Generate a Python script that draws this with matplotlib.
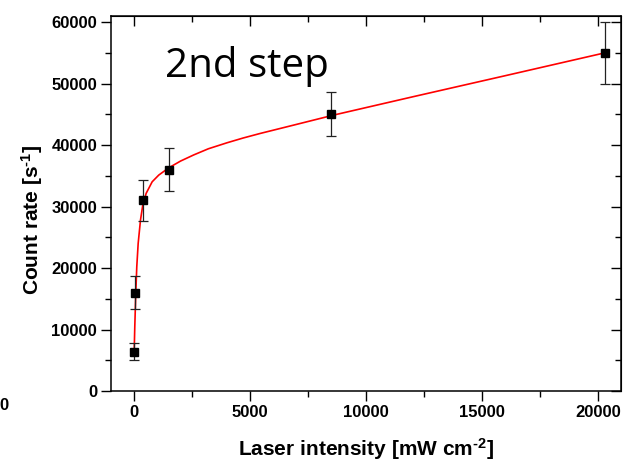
import matplotlib
matplotlib.use("Agg")
import matplotlib.pyplot as plt
from matplotlib.ticker import MultipleLocator

# measured points
intensity = [0, 50, 370, 1500, 8500, 20300]
count_rate = [6400, 16000, 31000, 36000, 45000, 55000]
count_err = [1400, 2700, 3400, 3500, 3600, 5000]

# fit curve
fit_x = [0, 26, 69, 112, 172, 272, 371, 517, 776, 1060, 1491, 2000, 2569,
         3200, 4009, 4700, 5444, 6880, 8603, 12000, 16000, 20300]
fit_y = [6400, 10450, 15880, 20210, 24010, 27800, 30240, 32150, 34030, 35120,
         36300, 37400, 38400, 39400, 40380, 41150, 41900, 43250, 44880, 47840,
         51280, 55000]

plt.rcParams['font.family'] = ['Liberation Sans', 'DejaVu Sans']
plt.rcParams['font.weight'] = 'bold'
plt.rcParams['axes.labelweight'] = 'bold'
plt.rcParams['mathtext.fontset'] = 'custom'
plt.rcParams['mathtext.rm'] = 'Liberation Sans:bold'
plt.rcParams['mathtext.default'] = 'rm'

fig = plt.figure(figsize=(6.25, 4.63), dpi=100)
ax = fig.add_axes([0.1776, 0.1555, 0.816, 0.81])

ax.plot(fit_x, fit_y, color='red', lw=1.2, zorder=2)
ax.errorbar(intensity, count_rate, yerr=count_err, fmt='s', color='black',
            ms=6, ecolor='#222222', elinewidth=0.9, capsize=3.3, capthick=0.9,
            zorder=3)

ax.set_xlim(-1000, 21000)
ax.set_ylim(0, 61000)

ax.xaxis.set_major_locator(MultipleLocator(5000))
ax.xaxis.set_minor_locator(MultipleLocator(2500))
ax.yaxis.set_major_locator(MultipleLocator(10000))
ax.yaxis.set_minor_locator(MultipleLocator(5000))
ax.tick_params(which='both', direction='out', width=1, labelsize=12, pad=3)
ax.tick_params(which='major', length=7)
ax.tick_params(which='minor', length=4)
for s in ax.spines.values():
    s.set_linewidth(1.1)

# mirrored ticks pointing inward on top and right
top = ax.secondary_xaxis('top')
top.xaxis.set_major_locator(MultipleLocator(5000))
top.xaxis.set_minor_locator(MultipleLocator(2500))
top.tick_params(which='both', direction='in', labeltop=False, width=1)
top.tick_params(which='major', length=7)
top.tick_params(which='minor', length=4)
right = ax.secondary_yaxis('right')
right.yaxis.set_major_locator(MultipleLocator(10000))
right.yaxis.set_minor_locator(MultipleLocator(5000))
right.tick_params(which='both', direction='in', labelright=False, width=1)
right.tick_params(which='major', length=7)
right.tick_params(which='minor', length=4)

ax.set_xlabel(r'Laser intensity [mW cm$^{\text{-2}}$]', fontsize=15, labelpad=12)
ax.set_ylabel(r'Count rate [s$^{\text{-1}}$]', fontsize=15)
ax.yaxis.set_label_coords(-0.129, 0.456)

ax.text(0.106, 0.837, '2nd step', transform=ax.transAxes, fontsize=29,
        family='Open Sans', fontweight='normal', va='baseline')

# cut-off label from the neighbouring panel
fig.text(8 / 625, 1 - 405 / 463, '0', ha='right', va='center', fontsize=12)

fig.savefig('out.png', dpi=100)
